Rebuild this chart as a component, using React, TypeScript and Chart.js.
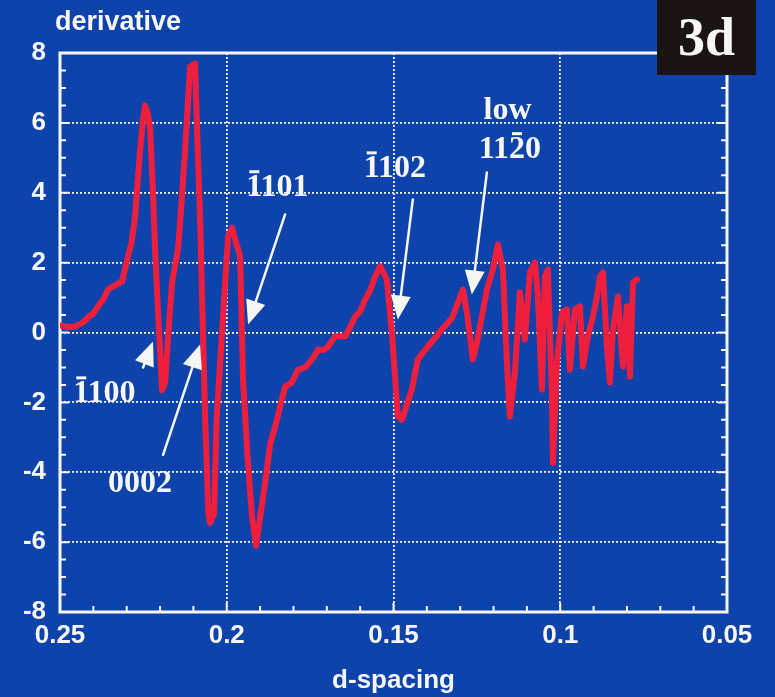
import React, { useEffect, useRef } from "react";
import { Chart, registerables } from "chart.js";

Chart.register(...registerables);

// ---- data ----
const dSpacing = [
  0.25, 0.247, 0.2455, 0.243, 0.2416, 0.24, 0.2386, 0.237, 0.2356, 0.2335,
  0.2314, 0.2296, 0.2285, 0.2275, 0.2268, 0.226, 0.2252, 0.2245, 0.2238, 0.223,
  0.2222, 0.2215, 0.2205, 0.2194, 0.2185, 0.2175, 0.2164, 0.2146, 0.2135, 0.2125,
  0.211, 0.2095, 0.2088, 0.208, 0.2065, 0.2055, 0.205, 0.2038, 0.203, 0.2011,
  0.1996, 0.1984, 0.197, 0.196, 0.1951, 0.1938, 0.1924, 0.1912, 0.19, 0.1885,
  0.187, 0.1855, 0.1825, 0.1805, 0.1786, 0.1765, 0.1744, 0.1726, 0.171, 0.1696,
  0.1675, 0.1645, 0.163, 0.1615, 0.16, 0.1585, 0.157, 0.1555, 0.154, 0.152,
  0.1504, 0.1487, 0.1475, 0.1445, 0.1427, 0.1397, 0.137, 0.1355, 0.1325, 0.1292,
  0.128, 0.1262, 0.125, 0.122, 0.1202, 0.1187, 0.1172, 0.116, 0.1151, 0.1136,
  0.1121, 0.1106, 0.1091, 0.1076, 0.1067, 0.1055, 0.1046, 0.1037, 0.1025, 0.1022,
  0.101, 0.0995, 0.098, 0.0971, 0.0956, 0.0941, 0.0932, 0.0917, 0.0902, 0.089,
  0.0881, 0.0872, 0.086, 0.0851, 0.0842, 0.0827, 0.0812, 0.08, 0.0791, 0.0782,
  0.077,
];
const derivative = [
  0.2, 0.15, 0.17, 0.3, 0.43, 0.55, 0.75, 0.95, 1.23, 1.35,
  1.46, 2.18, 2.6, 3.3, 4.2, 5.2, 6.0, 6.5, 6.3, 5.9,
  4.2, 2.4, 0.4, -1.65, -1.45, 0.0, 1.43, 2.4, 3.8, 5.2,
  7.6, 7.7, 5.5, 3.3, -2.4, -5.2, -5.45, -5.2, -2.4, 0.46,
  2.75, 3.0, 2.5, 2.2, -1.4, -3.5, -5.3, -6.1, -5.3, -4.3,
  -3.2, -2.7, -1.55, -1.43, -1.06, -1.0, -0.77, -0.49, -0.5, -0.4,
  -0.11, -0.11, 0.15, 0.46, 0.6, 0.95, 1.2, 1.6, 1.9, 1.52,
  -0.11, -2.4, -2.5, -1.63, -0.77, -0.4, -0.1, 0.09, 0.4, 1.23,
  0.57, -0.77, -0.3, 1.23, 1.8, 2.52, 1.8, -0.86, -2.4, -1.15,
  1.15, -0.2, 1.72, 2.0, 1.03, -1.63, 1.6, 1.8, -1.72, -3.73,
  -0.86, 0.57, 0.66, -1.06, 0.66, 0.75, -0.97, -0.11, 0.46, 1.03,
  1.6, 1.72, -0.4, -1.43, 0.09, 1.03, -0.97, 0.75, -1.26, 1.43,
  1.52,
];

const xTickValues = [0.25, 0.2, 0.15, 0.1, 0.05];
const xTickLabels = ["0.25", "0.2", "0.15", "0.1", "0.05"];
const yTickValues = [-8, -6, -4, -2, 0, 2, 4, 6, 8];
const yTickLabels = ["-8", "-6", "-4", "-2", "0", "2", "4", "6", "8"];
const minorXTicks = [
  0.24, 0.23, 0.22, 0.21, 0.19, 0.18, 0.17, 0.16, 0.14, 0.13, 0.12, 0.11,
  0.09, 0.08, 0.07, 0.06,
];
const minorYTicks = [
  -7.5, -7, -6.5, -5.5, -5, -4.5, -3.5, -3, -2.5, -1.5, -1, -0.5,
  0.5, 1, 1.5, 2.5, 3, 3.5, 4.5, 5, 5.5, 6.5, 7, 7.5,
];

// annotation labels (text, index of the character carrying an overbar, anchor in data units)
const labelTexts = ["1100", "0002", "1101", "1102", "low", "1120"];
const labelBarIndex = [0, -1, 0, 0, -1, 2];
const labelX = [0.2367, 0.226, 0.1848, 0.1496, 0.1158, 0.1151];
const labelY = [-2.0, -4.56, 3.9, 4.44, 6.1, 4.99];

// arrows (tail -> tip) in data units
const arrowTailX = [0.2251, 0.2191, 0.1825, 0.1442, 0.122];
const arrowTailY = [-1.0, -3.5, 3.38, 3.81, 4.58];
const arrowTipX = [0.2221, 0.208, 0.1936, 0.1487, 0.1265];
const arrowTipY = [-0.26, -0.34, 0.23, 0.37, 1.09];

const panelTag = "3d";
const xTitle = "d-spacing";
const yTitle = "derivative";

// ---- styles ----
const BG = "#0e43ac";
const WHITE = "#f6f6f2";
const RED = "#ee1f3d";
const SANS = "'Liberation Sans', Arial, Helvetica, sans-serif";
const SERIF = "'Liberation Serif', 'Times New Roman', serif";

function drawArrow(ctx: CanvasRenderingContext2D, x0: number, y0: number, x1: number, y1: number) {
  const ang = Math.atan2(y1 - y0, x1 - x0);
  const L = 24;
  const W = 10;
  const bx = x1 - L * Math.cos(ang);
  const by = y1 - L * Math.sin(ang);
  ctx.beginPath();
  ctx.moveTo(x0, y0);
  ctx.lineTo(bx, by);
  ctx.stroke();
  ctx.beginPath();
  ctx.moveTo(x1, y1);
  ctx.lineTo(bx + W * Math.sin(ang), by - W * Math.cos(ang));
  ctx.lineTo(bx - W * Math.sin(ang), by + W * Math.cos(ang));
  ctx.closePath();
  ctx.fill();
}

const decorPlugin = {
  id: "decor",
  beforeDatasetsDraw(chart: any) {
    const { ctx, chartArea: a, scales } = chart;
    const x = scales.x;
    const y = scales.y;
    ctx.save();
    ctx.strokeStyle = WHITE;
    ctx.lineWidth = 2;
    ctx.beginPath();
    minorXTicks.forEach((v) => {
      const px = x.getPixelForValue(v);
      ctx.moveTo(px, a.bottom);
      ctx.lineTo(px, a.bottom - 6);
    });
    minorYTicks.forEach((v) => {
      const py = y.getPixelForValue(v);
      ctx.moveTo(a.left, py);
      ctx.lineTo(a.left + 6, py);
      ctx.moveTo(a.right, py);
      ctx.lineTo(a.right - 6, py);
    });
    xTickValues.forEach((v) => {
      const px = x.getPixelForValue(v);
      ctx.moveTo(px, a.bottom);
      ctx.lineTo(px, a.bottom - 9);
    });
    yTickValues.forEach((v) => {
      const py = y.getPixelForValue(v);
      ctx.moveTo(a.left, py);
      ctx.lineTo(a.left + 9, py);
      ctx.moveTo(a.right, py);
      ctx.lineTo(a.right - 9, py);
    });
    ctx.stroke();
    ctx.lineWidth = 3;
    ctx.strokeRect(a.left, a.top, a.right - a.left, a.bottom - a.top);
    ctx.restore();
  },
  afterDatasetsDraw(chart: any) {
    const { ctx, scales } = chart;
    const x = scales.x;
    const y = scales.y;
    ctx.save();
    ctx.strokeStyle = WHITE;
    ctx.fillStyle = WHITE;
    ctx.lineWidth = 2.5;
    ctx.lineCap = "round";
    ctx.lineJoin = "round";
    arrowTailX.forEach((_, i) => {
      drawArrow(
        ctx,
        x.getPixelForValue(arrowTailX[i]),
        y.getPixelForValue(arrowTailY[i]),
        x.getPixelForValue(arrowTipX[i]),
        y.getPixelForValue(arrowTipY[i])
      );
    });
    ctx.font = `bold 32px ${SERIF}`;
    ctx.textAlign = "left";
    ctx.textBaseline = "alphabetic";
    labelTexts.forEach((t, i) => {
      const cx = x.getPixelForValue(labelX[i]);
      const by = y.getPixelForValue(labelY[i]);
      const w = ctx.measureText(t).width;
      const left = cx - w / 2;
      ctx.fillText(t, left, by);
      const bi = labelBarIndex[i];
      if (bi >= 0) {
        const pre = ctx.measureText(t.slice(0, bi)).width;
        const cw = ctx.measureText(t[bi]).width;
        ctx.fillRect(left + pre + 3, by - 26, cw - 6, 3);
      }
    });
    ctx.restore();
  },
  afterDraw(chart: any) {
    const { ctx, chartArea: a } = chart;
    ctx.save();
    // y title
    ctx.fillStyle = WHITE;
    ctx.font = `bold 27px ${SANS}`;
    ctx.textAlign = "left";
    ctx.textBaseline = "alphabetic";
    ctx.fillText(yTitle, a.left - 5, 30);
    // panel tag
    ctx.fillStyle = "#1a1412";
    ctx.fillRect(a.right - 70, 0, 99, 75);
    ctx.fillStyle = WHITE;
    ctx.font = `bold 54px ${SERIF}`;
    ctx.textAlign = "center";
    ctx.fillText(panelTag, a.right - 70 + 49.5, 55);
    ctx.restore();
  },
};

export default function App() {
  const canvasRef = useRef<HTMLCanvasElement | null>(null);

  useEffect(() => {
    document.body.style.margin = "0";
    const canvas = canvasRef.current;
    if (!canvas) return;
    const chart = new Chart(canvas, {
      type: "line",
      data: {
        datasets: [
          {
            data: dSpacing.map((v, i) => ({ x: v, y: derivative[i] })),
            borderColor: RED,
            borderWidth: 6,
            pointRadius: 0,
            tension: 0,
            borderJoinStyle: "round",
            borderCapStyle: "round",
            fill: false,
          },
        ],
      },
      options: {
        animation: false,
        responsive: false,
        maintainAspectRatio: false,
        layout: { padding: { top: 53, right: 48, left: 0, bottom: 0 } },
        plugins: {
          legend: { display: false },
          tooltip: { enabled: false },
        },
        scales: {
          x: {
            type: "linear",
            reverse: true,
            min: 0.05,
            max: 0.25,
            afterBuildTicks: (axis: any) => {
              axis.ticks = xTickValues.map((v) => ({ value: v }));
            },
            afterFit: (axis: any) => {
              axis.height = 85;
            },
            ticks: {
              color: WHITE,
              padding: 8,
              maxRotation: 0,
              autoSkip: false,
              font: { family: SANS, size: 26, weight: "bold" },
              callback: (v: any) => {
                const i = xTickValues.findIndex((t) => Math.abs(t - v) < 1e-9);
                return i >= 0 ? xTickLabels[i] : "";
              },
            },
            grid: { color: WHITE, lineWidth: 1.8, drawTicks: false },
            border: { display: false, dash: [2, 2] },
            title: {
              display: true,
              text: xTitle,
              color: WHITE,
              font: { family: SANS, size: 26, weight: "bold" },
              padding: { top: 0, bottom: 1 },
            },
          },
          y: {
            type: "linear",
            min: -8,
            max: 8,
            afterBuildTicks: (axis: any) => {
              axis.ticks = yTickValues.map((v) => ({ value: v }));
            },
            afterFit: (axis: any) => {
              axis.width = 60;
            },
            ticks: {
              color: WHITE,
              padding: 14,
              autoSkip: false,
              font: { family: SANS, size: 26, weight: "bold" },
              callback: (v: any) => {
                const i = yTickValues.findIndex((t) => Math.abs(t - v) < 1e-9);
                return i >= 0 ? yTickLabels[i] : "";
              },
            },
            grid: { color: WHITE, lineWidth: 1.8, drawTicks: false },
            border: { display: false, dash: [2, 2] },
          },
        },
      },
      plugins: [decorPlugin],
    } as any);
    return () => chart.destroy();
  }, []);

  return (
    <div style={{ width: 775, height: 697, background: BG, position: "relative", overflow: "hidden" }}>
      <canvas ref={canvasRef} width={775} height={697} style={{ display: "block", width: 775, height: 697 }} />
    </div>
  );
}
